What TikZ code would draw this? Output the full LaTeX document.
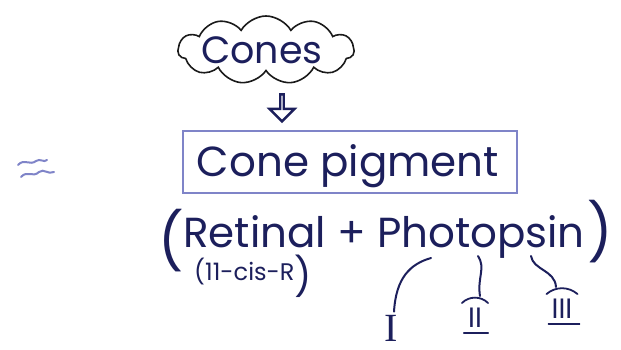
\documentclass[tikz,border=0pt]{standalone}
\usepackage{fontspec}
\setmainfont{Poppins}
\newfontfamily\numfont{Liberation Serif}
\usetikzlibrary{shapes.symbols,shapes.arrows,arrows.meta}
\definecolor{ink}{HTML}{1C1F5C}
\definecolor{pencil}{HTML}{7F84C8}
\definecolor{cloudink}{HTML}{1A1A1A}
\tikzset{
  handtext/.style={text=ink, inner sep=1pt},
  inkline/.style={draw=ink, line width=1.6pt, line cap=round},
  paren/.style={text=ink, inner sep=0pt, font=\fontsize{56}{56}\selectfont},
  squig/.style={draw=pencil, line width=2pt, line cap=round},
}
\begin{document}
\begin{tikzpicture}[x=1pt,y=-1pt]
\useasboundingbox (0,0) rectangle (621,349);
% cloud
\node[cloud, cloud puffs=11, cloud puff arc=120, aspect=2.6, draw=cloudink, line width=1.6pt,
      minimum width=176pt, minimum height=68pt, inner sep=0pt] (cloud) at (266,50) {};
\node[handtext, font=\fontsize{38}{40}\selectfont] (cones) at (262,50) {Cones};
% box
\node[draw=pencil, line width=1.8pt, minimum width=334pt, minimum height=62pt, inner sep=0pt] (box) at (350,162) {};
\node[handtext, font=\fontsize{42}{44}\selectfont] (pig) at (348,166) {Cone pigment};
% hollow arrow between cloud and box
\node[single arrow, draw=ink, line width=2.4pt, rotate=-90, minimum width=25pt, minimum height=27pt,
      single arrow head extend=7.5pt, single arrow tip angle=90, inner sep=0pt] (arr) at (282,107) {};
% squiggle
\draw[squig] (18,165) .. controls (24,158) and (30,166) .. (36,161) .. controls (40,158) and (44,163) .. (47,160);
\draw[squig] (21,177) .. controls (27,170) and (33,178) .. (39,172) .. controls (44,168) and (48,175) .. (54,172);
% retinal + photopsin
\node[handtext, font=\fontsize{42}{44}\selectfont, anchor=base] (rp) at (384,247) {Retinal + Photopsin};
\node[paren] (lpar) at (171,241) {(};
\node[paren] (rpar) at (600,232) {)};
\node[handtext, font=\fontsize{24}{26}\selectfont, anchor=base west] (cis) at (193,280)
  {(11-cis-R\raisebox{-10pt}{\fontsize{38}{38}\selectfont)}};
% numerals
\node[handtext, font=\numfont\fontsize{40}{42}\selectfont, inner sep=0pt] (n1) at (391,328) {I};
\node[handtext, font=\fontsize{28}{30}\selectfont, inner xsep=6pt, inner ysep=5pt] (n2) at (475,318) {II};
\node[handtext, font=\fontsize{28}{30}\selectfont, inner xsep=5pt, inner ysep=5pt] (n3) at (562,309) {III};
\draw[inkline, line width=1.8pt] (n2.north west) to[bend left=45] (n2.north east);
\draw[inkline, line width=1.8pt] ([xshift=2pt]n2.south west) -- (n2.south east);
\draw[inkline, line width=1.8pt] (n3.north west) to[bend left=40] (n3.north east);
\draw[inkline, line width=1.8pt] ([xshift=2pt]n3.south west) -- ([xshift=2pt]n3.south east);
% branches
\coordinate (b1) at (431,258);
\coordinate (b2) at (478,256);
\coordinate (b3) at (531,256);
\draw[inkline, line width=2pt] (b1) .. controls (410,264) and (396,278) .. ([yshift=3pt,xshift=3pt]n1.north);
\draw[inkline, line width=2pt] (b2) .. controls (486,268) and (477,278) .. ([yshift=7pt,xshift=5pt]n2.north);
\draw[inkline, line width=2pt] (b3) .. controls (533,270) and (555,270) .. ([yshift=7pt,xshift=-6pt]n3.north);
\end{tikzpicture}
\end{document}
